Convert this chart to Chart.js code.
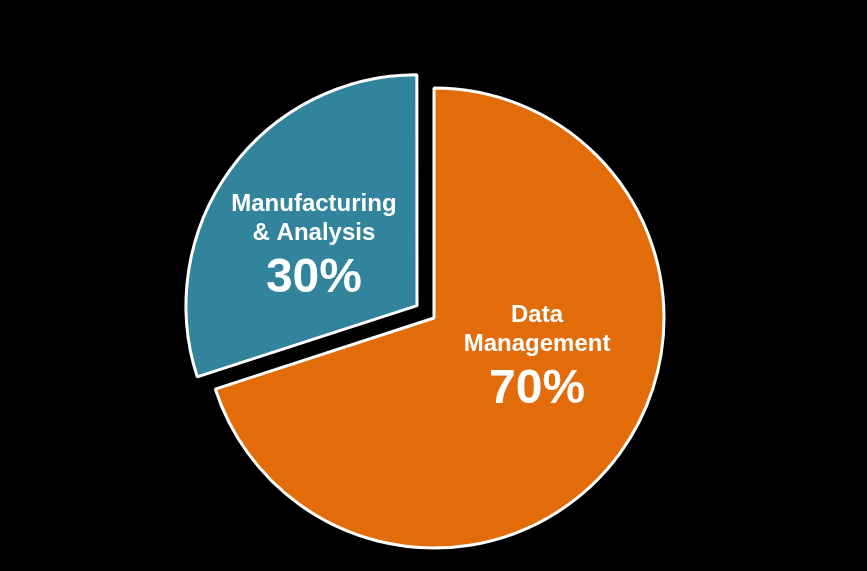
<!DOCTYPE html>
<html>
<head>
<meta charset="utf-8">
<script src="https://cdn.jsdelivr.net/npm/chart.js@4"></script>
<style>
  html, body { margin: 0; padding: 0; background: #000; }
  #wrap { width: 867px; height: 571px; }
</style>
</head>
<body>
<div id="wrap"><canvas id="pieChart" width="867" height="571"></canvas></div>
<script>
// chart data
const categories = ["Data Management", "Manufacturing & Analysis"];
const labelLines = [["Data", "Management"], ["Manufacturing", "& Analysis"]];
const shares = [70, 30];
const sliceColors = ["#E36C0A", "#31849B"];

// where each slice's text block sits, as a fraction of the radius from the pie centre
const labelAnchors = [[0.448, 0.017], [-0.522, -0.465]];

// draws the in-slice labels (name lines + big percentage)
const sliceLabels = {
  id: "sliceLabels",
  afterDatasetsDraw(chart) {
    const ctx = chart.ctx;
    const arcs = chart.getDatasetMeta(0).data;
    ctx.save();
    ctx.fillStyle = "#fff";
    ctx.textAlign = "center";
    ctx.textBaseline = "alphabetic";
    arcs.forEach(function (arc, i) {
      const r = arc.outerRadius;
      const x = arc.x + labelAnchors[i][0] * r;
      let y = arc.y + labelAnchors[i][1] * r;
      ctx.font = "bold 24px 'Liberation Sans', Arial, sans-serif";
      labelLines[i].forEach(function (line, k) {
        ctx.fillText(line, x, y + k * 29);
      });
      ctx.font = "bold 48px 'Liberation Sans', Arial, sans-serif";
      ctx.fillText(shares[i] + "%", x, y + 81);
    });
    ctx.restore();
  }
};

const ctxPie = document.getElementById("pieChart").getContext("2d");
const pieChart = new Chart(ctxPie, {
  type: "pie",
  data: {
    labels: categories,
    datasets: [
      {
        data: shares,
        backgroundColor: sliceColors,
        borderColor: "#fff",
        borderWidth: 3,
        offset: [0, 84]
      }
    ]
  },
  options: {
    responsive: false,
    animation: false,
    events: [],
    radius: 230,
    layout: { padding: { top: 65, left: 1 } },
    plugins: {
      legend: { display: false },
      tooltip: { enabled: false }
    }
  },
  plugins: [sliceLabels]
});
</script>
</body>
</html>
